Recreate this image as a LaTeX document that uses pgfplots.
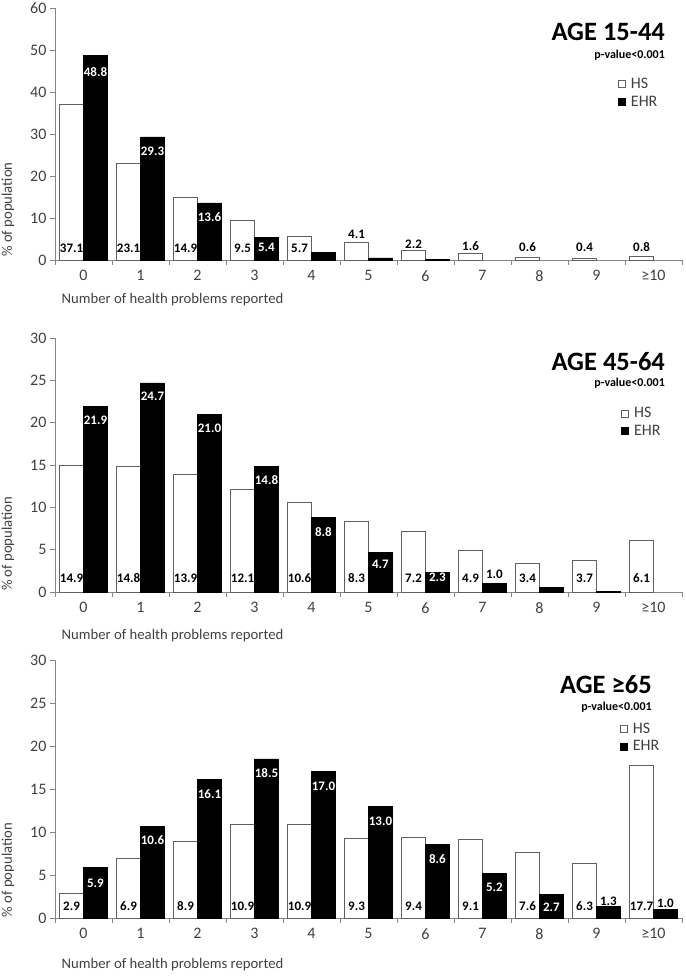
\documentclass[border=0pt]{standalone}
\usepackage{pgfplots}
\pgfplotsset{compat=1.18}
\usepackage{fontspec}
\setmainfont{Carlito}
\definecolor{axgray}{HTML}{868686}
\definecolor{txtgray}{HTML}{404040}
\definecolor{hsedge}{HTML}{606060}
\pgfplotsset{
  panel/.style={
    scale only axis, width=627pt, anchor=south west,
    xmin=-0.5, xmax=10.5, ymin=0,
    axis x line*=bottom, axis y line*=left,
    axis line style={axgray, line width=0.8pt},
    xtick={0,...,10},
    xticklabels={0,1,2,3,4,5,6,7,8,9,≥10},
    minor xtick={-0.5,0.5,...,10.5},
    major x tick style={draw=none},
    minor x tick style={axgray, line width=0.8pt},
    y tick style={axgray, line width=0.8pt},
    tick align=outside, major tick length=5pt, minor tick length=5pt,
    /pgf/number format/assume math mode=true,
    tick label style={font=\fontsize{16}{17}\selectfont, text=txtgray},
    x tick label style={yshift=-2pt},
    label style={font=\fontsize{14.7}{15}\selectfont, text=txtgray},
    ylabel={\% of population},
    xlabel={Number of health problems reported},
    legend style={draw=none, fill=none, font=\fontsize{16}{17}\selectfont,
      text=txtgray, anchor=north west, row sep=2pt, column sep=3pt, cells={anchor=west},
      inner sep=0pt},
    clip=false,
  },
  sqleg/.style={legend image code/.code={\draw[##1] (0pt,-3.5pt) rectangle (7pt,3.5pt);}},
  hsbar/.style={ybar, bar width=0.42, bar shift=-0.21, fill=white, draw=hsedge, line width=0.7pt, sqleg},
  ehrbar/.style={ybar, bar width=0.42, bar shift=0.21, fill=black, draw=black, line width=0.7pt, sqleg},
  lab/.style={forget plot, draw=none, mark=none, nodes near coords, point meta=explicit symbolic,
    nodes near coords style={anchor=center, inner sep=0pt, font=\bfseries\fontsize{13}{13}\selectfont, text=#1}},
  lab/.default=black,
}
\begin{document}
\begin{tikzpicture}
\useasboundingbox (0,0) rectangle (685pt,976pt);
% ---------------- Panel 1 ----------------
\begin{axis}[panel, at={(55pt,716pt)}, height=252pt, ymax=60, ytick={0,10,...,60},
  xlabel style={at={(rel axis cs:0.005,-0.159)}, anchor=west},
  ylabel style={at={(rel axis cs:-0.075,0.2)}, anchor=center},
  legend style={at={(rel axis cs:0.898,0.73)}}]
\addplot[hsbar] coordinates {(0,37.1)(1,23.1)(2,14.9)(3,9.5)(4,5.7)(5,4.1)(6,2.2)(7,1.6)(8,0.6)(9,0.4)(10,0.8)};
\addplot[ehrbar] coordinates {(0,48.8)(1,29.3)(2,13.6)(3,5.4)(4,1.9)(5,0.5)(6,0.2)};
\legend{HS,EHR}
\addplot[lab] coordinates {(-0.21,2.8)[37.1] (0.79,2.8)[23.1] (1.79,2.8)[14.9] (2.79,2.8)[9.5] (3.79,2.8)[5.7]};
\addplot[lab] coordinates {(4.79,6.0)[4.1] (5.79,3.7)[2.2] (6.79,3.2)[1.6] (7.79,3.1)[0.6] (8.79,3.1)[0.4] (9.79,3.1)[0.8]};
\addplot[lab=white] coordinates {(0.21,44.8)[48.8] (1.21,26.0)[29.3] (2.21,10.2)[13.6] (3.21,2.9)[5.4]};
\node[anchor=east, inner sep=0pt, font=\bfseries\fontsize{26.5}{27}\selectfont] at (rel axis cs:0.973,0.905) {AGE 15-44};
\node[anchor=east, inner sep=0pt, font=\bfseries\fontsize{12}{12}\selectfont] at (rel axis cs:0.973,0.813) {p-value<0.001};
\end{axis}
% ---------------- Panel 2 ----------------
\begin{axis}[panel, at={(55pt,384pt)}, height=254pt, ymax=30, ytick={0,5,...,30},
  xlabel style={at={(rel axis cs:0.005,-0.173)}, anchor=west},
  ylabel style={at={(rel axis cs:-0.075,0.19)}, anchor=center},
  legend style={at={(rel axis cs:0.903,0.735)}}]
\addplot[hsbar] coordinates {(0,14.9)(1,14.8)(2,13.9)(3,12.1)(4,10.6)(5,8.3)(6,7.2)(7,4.9)(8,3.4)(9,3.7)(10,6.1)};
\addplot[ehrbar] coordinates {(0,21.9)(1,24.7)(2,21.0)(3,14.8)(4,8.8)(5,4.7)(6,2.3)(7,1.0)(8,0.5)(9,0.1)};
\legend{HS,EHR}
\addplot[lab] coordinates {(-0.21,1.6)[14.9] (0.79,1.6)[14.8] (1.79,1.6)[13.9] (2.79,1.6)[12.1] (3.79,1.6)[10.6]
  (4.79,1.6)[8.3] (5.79,1.6)[7.2] (6.79,1.6)[4.9] (7.79,1.6)[3.4] (8.79,1.6)[3.7] (9.79,1.6)[6.1]};
\addplot[lab] coordinates {(7.21,2.1)[1.0]};
\addplot[lab=white] coordinates {(0.21,20.3)[21.9] (1.21,23.1)[24.7] (2.21,19.3)[21.0] (3.21,13.2)[14.8] (4.21,7.1)[8.8] (5.21,3.3)[4.7] (6.21,1.7)[2.3]};
\node[anchor=east, inner sep=0pt, font=\bfseries\fontsize{26.5}{27}\selectfont] at (rel axis cs:0.973,0.906) {AGE 45-64};
\node[anchor=east, inner sep=0pt, font=\bfseries\fontsize{12}{12}\selectfont] at (rel axis cs:0.973,0.823) {p-value<0.001};
\end{axis}
% ---------------- Panel 3 ----------------
\begin{axis}[panel, at={(55pt,58pt)}, height=258pt, ymax=30, ytick={0,5,...,30},
  xlabel style={at={(rel axis cs:0.005,-0.182)}, anchor=west},
  ylabel style={at={(rel axis cs:-0.075,0.186)}, anchor=center},
  legend style={at={(rel axis cs:0.901,0.765)}}]
\addplot[hsbar] coordinates {(0,2.9)(1,6.9)(2,8.9)(3,10.9)(4,10.9)(5,9.3)(6,9.4)(7,9.1)(8,7.6)(9,6.3)(10,17.7)};
\addplot[ehrbar] coordinates {(0,5.9)(1,10.6)(2,16.1)(3,18.5)(4,17.0)(5,13.0)(6,8.6)(7,5.2)(8,2.7)(9,1.3)(10,1.0)};
\legend{HS,EHR}
\addplot[lab] coordinates {(-0.21,1.35)[2.9] (0.79,1.35)[6.9] (1.79,1.35)[8.9] (2.79,1.35)[10.9] (3.79,1.35)[10.9]
  (4.79,1.35)[9.3] (5.79,1.35)[9.4] (6.79,1.35)[9.1] (7.79,1.35)[7.6] (8.79,1.35)[6.3] (9.79,1.35)[17.7]};
\addplot[lab] coordinates {(9.21,1.9)[1.3] (10.21,1.7)[1.0]};
\addplot[lab=white] coordinates {(0.21,4.0)[5.9] (1.21,9.0)[10.6] (2.21,14.4)[16.1] (3.21,16.8)[18.5] (4.21,15.3)[17.0] (5.21,11.3)[13.0] (6.21,6.9)[8.6] (7.21,3.6)[5.2] (8.21,1.3)[2.7]};
\node[anchor=east, inner sep=0pt, font=\bfseries\fontsize{26.5}{27}\selectfont] at (rel axis cs:0.952,0.903) {AGE ≥65};
\node[anchor=east, inner sep=0pt, font=\bfseries\fontsize{12}{12}\selectfont] at (rel axis cs:0.952,0.818) {p-value<0.001};
\end{axis}
\end{tikzpicture}
\end{document}
